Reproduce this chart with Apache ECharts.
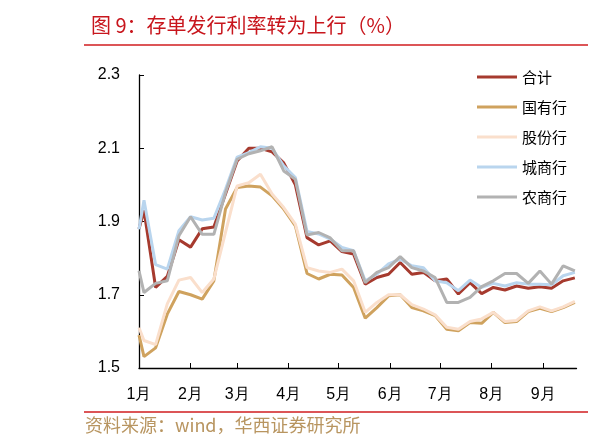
<!DOCTYPE html>
<html>
<head>
<meta charset="utf-8">
<script src="https://cdn.jsdelivr.net/npm/echarts@6/dist/echarts.min.js"></script>
<style>
html,body{margin:0;padding:0;background:#fff;}
#c{width:593px;height:447px;}
</style>
</head>
<body>
<div id="c"></div>
<script>
// day of year (0 = Jan 1) for each observation
const days = [0,3,10,17,24,31,38,45,52,59,66,73,80,87,94,101,108,115,122,129,136,143,150,157,164,171,178,185,192,199,206,213,220,227,234,241,248,255,262];
const monthStarts = [0,31,59,90,120,151,181,212,243];
const monthLabels = ['1月','2月','3月','4月','5月','6月','7月','8月','9月'];
const seriesNames = ['合计','国有行','股份行','城商行','农商行'];

const total = [1.88,1.93,1.72,1.75,1.85,1.83,1.88,1.885,1.975,2.065,2.10,2.10,2.09,2.06,2.00,1.856,1.836,1.847,1.818,1.811,1.729,1.747,1.756,1.788,1.756,1.761,1.738,1.743,1.702,1.733,1.703,1.72,1.713,1.724,1.718,1.722,1.718,1.738,1.746];
const stateOwned = [1.59,1.531,1.555,1.647,1.709,1.70,1.688,1.738,1.934,1.993,1.997,1.994,1.97,1.934,1.888,1.758,1.743,1.756,1.754,1.72,1.636,1.665,1.697,1.70,1.665,1.656,1.643,1.606,1.602,1.624,1.622,1.652,1.624,1.627,1.654,1.663,1.654,1.665,1.679];
const jointStock = [1.61,1.575,1.564,1.675,1.74,1.747,1.706,1.743,1.87,1.997,2.006,2.029,1.975,1.938,1.893,1.774,1.765,1.761,1.77,1.738,1.652,1.679,1.70,1.70,1.673,1.661,1.645,1.611,1.606,1.627,1.634,1.652,1.627,1.63,1.656,1.667,1.656,1.667,1.682];
const cityComm = [1.879,1.958,1.782,1.77,1.875,1.913,1.904,1.909,1.988,2.076,2.088,2.104,2.10,2.052,2.02,1.873,1.866,1.852,1.829,1.82,1.738,1.756,1.784,1.797,1.779,1.774,1.738,1.733,1.711,1.74,1.72,1.731,1.724,1.733,1.729,1.729,1.727,1.752,1.761];
const rural = [1.765,1.706,1.731,1.738,1.861,1.913,1.865,1.865,1.979,2.07,2.085,2.093,2.104,2.038,2.015,1.863,1.87,1.855,1.82,1.82,1.733,1.761,1.774,1.804,1.774,1.765,1.747,1.679,1.679,1.693,1.722,1.738,1.758,1.758,1.731,1.765,1.729,1.779,1.765];

const colors = ['#A63A2E','#CFA25E','#FADFCC','#B9D5EE','#B2B2B2'];
const allVals = [total,stateOwned,jointStock,cityComm,rural];

const chart = echarts.init(document.getElementById('c'), null, {renderer:'canvas'});
const font = 'Liberation Sans, Arial, sans-serif';
const cjk = 'Noto Sans CJK SC, sans-serif';

chart.setOption({
  animation:false,
  backgroundColor:'#fff',
  title:{
    text:'图 9：存单发行利率转为上行（%）',
    left:86, top:10,
    textStyle:{color:'#C8161D', fontSize:20, fontWeight:'normal', fontFamily:cjk}
  },
  graphic:[
    {type:'line', shape:{x1:84,y1:45,x2:588,y2:45}, style:{stroke:'#D01C1F', lineWidth:1.5}},
    {type:'line', shape:{x1:84,y1:412,x2:588,y2:412}, style:{stroke:'#D01C1F', lineWidth:1.5}},
    {type:'text', left:85, top:416, style:{text:'资料来源：wind，华西证券研究所', fill:'#B89560', font:'18px '+cjk}}
  ],
  legend:{
    orient:'vertical',
    left:472, top:63,
    icon:'rect',
    itemWidth:40, itemHeight:3,
    itemGap:12,
    data:seriesNames,
    textStyle:{fontSize:15, fontFamily:cjk, color:'#000', lineHeight:18, padding:[0,0,0,0]}
  },
  grid:{left:139, right:16.5, top:75, bottom:79, containLabel:false},
  xAxis:{
    type:'value', min:0, max:263,
    axisLine:{show:true, lineStyle:{color:'#000', width:1.3}},
    axisTick:{show:true, inside:true, length:5, customValues:monthStarts, lineStyle:{color:'#000'}},
    axisLabel:{customValues:monthStarts, margin:19, fontSize:16, fontFamily:font, color:'#000',
      formatter:function(v){const i=monthStarts.indexOf(Math.round(v)); return i>=0?monthLabels[i]:'';}},
    splitLine:{show:false}
  },
  yAxis:{
    type:'value', min:1.5, max:2.3, interval:0.2,
    axisLine:{show:true, lineStyle:{color:'#000', width:1.3}},
    axisTick:{show:true, inside:true, length:5, lineStyle:{color:'#000'}},
    axisLabel:{margin:19, fontSize:16, fontFamily:font, color:'#000', formatter:function(v){return v.toFixed(1);}},
    splitLine:{show:false}
  },
  series: seriesNames.map(function(name,si){
    return {
      name:name, type:'line', symbol:'none', smooth:false,
      lineStyle:{width:3, color:colors[si]},
      itemStyle:{color:colors[si]},
      z: 2 + si,
      data: days.map(function(d,i){return [d, allVals[si][i]];})
    };
  })
});
</script>
</body>
</html>
